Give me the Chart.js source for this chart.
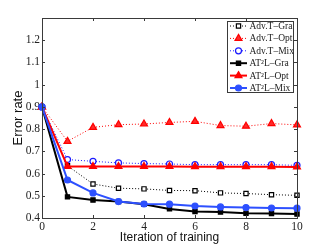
<!DOCTYPE html>
<html>
<head>
<meta charset="utf-8">
<script src="https://cdn.jsdelivr.net/npm/chart.js@4/dist/chart.umd.min.js"></script>
<style>
html,body{margin:0;padding:0;background:#fff;}
canvas{display:block;}
</style>
</head>
<body>
<canvas id="c" width="327" height="246"></canvas>
<script>
// ---- data ----
const iterations = [0,1,2,3,4,5,6,7,8,9,10];
const advGra  = [0.90,0.635,0.553,0.534,0.531,0.524,0.523,0.513,0.510,0.505,0.502];
const advOpt  = [0.90,0.745,0.808,0.820,0.823,0.830,0.835,0.816,0.813,0.825,0.819];
const advMix  = [0.90,0.663,0.655,0.648,0.645,0.643,0.640,0.640,0.640,0.640,0.637];
const at2lGra = [0.90,0.495,0.481,0.474,0.462,0.441,0.429,0.427,0.421,0.420,0.418];
const at2lOpt = [0.90,0.632,0.632,0.632,0.632,0.632,0.631,0.631,0.631,0.631,0.630];
const at2lMix = [0.90,0.571,0.513,0.474,0.463,0.462,0.454,0.450,0.447,0.445,0.444];
const seriesNames = ['Adv.T\u2013Gra','Adv.T\u2013Opt','Adv.T\u2013Mix','AT\u00B2L\u2013Gra','AT\u00B2L\u2013Opt','AT\u00B2L\u2013Mix'];
const xTicksStep = 2;
const yMin = 0.4, yMax = 1.3, yStep = 0.1;

const BLUE = 'rgb(45,80,255)';
const styles = [
  {color:'#000', dash:[1,2], width:1, shape:'rect', r:3, fill:'#fff'},
  {color:'#ff0000', dash:[1,2], width:1, shape:'triangle', r:4, fill:'#ff2a2a'},
  {color:'#1a1aff', dash:[1,2], width:1, shape:'circle', r:3, fill:'#fff'},
  {color:'#000', dash:[], width:2, shape:'rect', r:3, fill:'#000'},
  {color:'#ff0000', dash:[], width:2, shape:'triangle', r:4, fill:'#ff0000'},
  {color:BLUE, dash:[], width:2, shape:'circle', r:3, fill:BLUE}
];
const allSeries = [advGra, advOpt, advMix, at2lGra, at2lOpt, at2lMix];

const datasets = allSeries.map((vals, i) => ({
  label: seriesNames[i],
  data: iterations.map((x, k) => ({x: x, y: vals[k]})),
  borderColor: styles[i].color,
  borderWidth: styles[i].width,
  borderDash: styles[i].dash,
  pointStyle: styles[i].shape,
  pointRadius: styles[i].r,
  pointBorderColor: styles[i].color,
  pointBackgroundColor: styles[i].fill,
  pointBorderWidth: 1.2,
  pointHoverRadius: styles[i].r,
  tension: 0,
  fill: false,
  clip: false,
  order: 5 - i
}));

const AXIS = '#3a3a3a';

const boxPlugin = {
  id: 'box',
  afterDraw(chart) {
    const {ctx, chartArea: a} = chart;
    const xs = chart.scales.x, ys = chart.scales.y;
    ctx.save();
    ctx.strokeStyle = AXIS;
    ctx.lineWidth = 1;
    ctx.beginPath();
    xs.ticks.forEach(t => {
      const px = Math.round(xs.getPixelForValue(t.value)) + 0.5;
      ctx.moveTo(px, a.bottom); ctx.lineTo(px, a.bottom - 3);
      ctx.moveTo(px, a.top); ctx.lineTo(px, a.top + 3);
    });
    ys.ticks.forEach(t => {
      const py = Math.round(ys.getPixelForValue(t.value)) + 0.5;
      ctx.moveTo(a.left, py); ctx.lineTo(a.left + 3, py);
      ctx.moveTo(a.right, py); ctx.lineTo(a.right - 3, py);
    });
    ctx.stroke();
    ctx.strokeRect(Math.round(a.left) + 0.5, Math.round(a.top) + 0.5, Math.round(a.right - a.left), Math.round(a.bottom - a.top));
    ctx.restore();
  }
};

function drawMarker(ctx, shape, x, y, r, stroke, fill) {
  ctx.beginPath();
  if (shape === 'rect') {
    const s = r * Math.SQRT1_2;
    ctx.rect(x - s, y - s, 2 * s, 2 * s);
  } else if (shape === 'triangle') {
    ctx.moveTo(x, y - r);
    ctx.lineTo(x + r * 0.866, y + r * 0.5);
    ctx.lineTo(x - r * 0.866, y + r * 0.5);
    ctx.closePath();
  } else {
    ctx.arc(x, y, r, 0, Math.PI * 2);
  }
  ctx.fillStyle = fill; ctx.fill();
  ctx.strokeStyle = stroke; ctx.lineWidth = 1.2; ctx.stroke();
}

const legendPlugin = {
  id: 'mlegend',
  afterDraw(chart) {
    const ctx = chart.ctx;
    const bx = 227, by = 21, bw = 66, bh = 71;
    ctx.save();
    ctx.fillStyle = '#fff';
    ctx.fillRect(bx, by, bw, bh);
    ctx.strokeStyle = AXIS; ctx.lineWidth = 1; ctx.setLineDash([]);
    ctx.strokeRect(bx + 0.5, by + 0.5, bw, bh);
    ctx.font = '9.5px "Liberation Serif", "DejaVu Serif", serif';
    ctx.textBaseline = 'middle';
    ctx.textAlign = 'left';
    chart.data.datasets.forEach((ds, i) => {
      const st = styles[i];
      const cy = 26 + i * 12.4;
      ctx.beginPath();
      ctx.setLineDash(st.dash);
      ctx.strokeStyle = st.color;
      ctx.lineWidth = st.width;
      ctx.moveTo(230, cy); ctx.lineTo(247, cy);
      ctx.stroke();
      ctx.setLineDash([]);
      drawMarker(ctx, st.shape, 238.5, cy, st.r, st.color, st.fill);
      ctx.fillStyle = '#222';
      ctx.fillText(ds.label, 249.5, cy + 0.5);
    });
    ctx.restore();
  }
};

new Chart(document.getElementById('c'), {
  type: 'line',
  data: { datasets: datasets },
  options: {
    responsive: false,
    animation: false,
    devicePixelRatio: 1,
    layout: { padding: { left: 0, right: 30, top: 18, bottom: 0 } },
    plugins: { legend: { display: false }, tooltip: { enabled: false } },
    scales: {
      x: {
        type: 'linear', min: 0, max: 10,
        grid: { display: false, drawTicks: false },
        border: { display: false },
        ticks: {
          stepSize: xTicksStep, padding: 2, color: '#222',
          font: { family: '"Liberation Serif", serif', size: 11.5 },
          maxRotation: 0
        },
        title: {
          display: true, text: 'Iteration of training', color: '#111',
          font: { family: '"Liberation Sans", Arial, sans-serif', size: 12 },
          padding: { top: 0, bottom: 1 }
        },
        afterFit(s) { s.height = 28; }
      },
      y: {
        type: 'linear', min: yMin, max: yMax,
        grid: { display: false, drawTicks: false },
        border: { display: false },
        ticks: {
          stepSize: yStep, padding: 2, color: '#222',
          font: { family: '"Liberation Serif", serif', size: 11.5 },
          callback: v => Math.abs(v - 1.3) < 1e-6 ? '' : String(Math.round(v * 10) / 10)
        },
        title: {
          display: true, text: 'Error rate', color: '#111',
          font: { family: '"Liberation Sans", Arial, sans-serif', size: 13 },
          padding: { top: 11, bottom: 0 }
        },
        afterFit(s) { s.width = 42; }
      }
    }
  },
  plugins: [boxPlugin, legendPlugin]
});
</script>
</body>
</html>
